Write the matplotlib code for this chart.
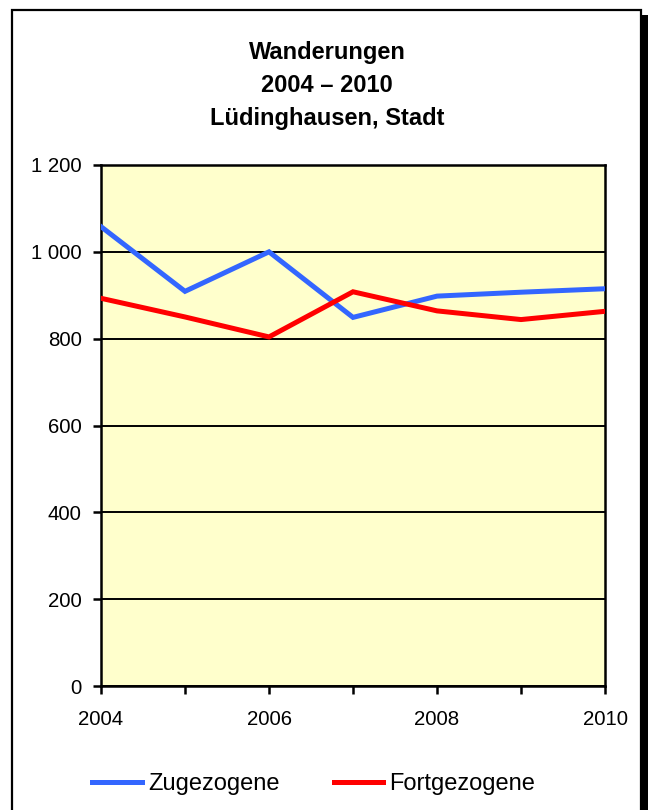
import matplotlib.pyplot as plt
import matplotlib.patches as patches
from matplotlib.ticker import FuncFormatter, MultipleLocator

plt.rcParams['font.family'] = ['Liberation Sans', 'DejaVu Sans']

years = [2004, 2005, 2006, 2007, 2008, 2009, 2010]
zugezogene = [1058, 909, 1000, 849, 898, 907, 915]
fortgezogene = [893, 850, 804, 908, 864, 844, 863]

fig = plt.figure(figsize=(6.48, 8.1), dpi=100)

# outer frame with drop shadow
W, H = 648.0, 810.0
fig.patches.append(patches.Rectangle((641 / W, -0.1), 7 / W, (810 - 15) / H + 0.1,
                                     transform=fig.transFigure, facecolor='black',
                                     edgecolor='none', zorder=-3))
fig.patches.append(patches.Rectangle((12 / W, -0.1), (641 - 12) / W, (810 - 10) / H + 0.1,
                                     transform=fig.transFigure, facecolor='white',
                                     edgecolor='black', linewidth=1.6, zorder=-2))

ax = fig.add_axes([101 / W, 1 - 686 / H, (605 - 101) / W, (686 - 165) / H])
ax.set_facecolor('#FFFFCC')

ax.plot(years, zugezogene, color='#3366FF', linewidth=3.6, label='Zugezogene',
        solid_joinstyle='miter', zorder=3)
ax.plot(years, fortgezogene, color='#FF0000', linewidth=3.6, label='Fortgezogene',
        solid_joinstyle='miter', zorder=3)

ax.set_xlim(2004, 2010)
ax.set_ylim(0, 1200)
ax.xaxis.set_major_locator(MultipleLocator(2))
ax.xaxis.set_minor_locator(MultipleLocator(1))
ax.yaxis.set_major_locator(MultipleLocator(200))
ax.yaxis.set_major_formatter(FuncFormatter(lambda v, p: f'{int(v):,}'.replace(',', ' ')))

ax.grid(axis='y', color='black', linewidth=1.4)
ax.set_axisbelow(True)
for s in ax.spines.values():
    s.set_linewidth(1.8)
ax.tick_params(axis='x', which='both', direction='out', length=6, width=1.8,
               labelsize=14.7, pad=11)
ax.tick_params(axis='y', which='major', direction='out', length=6, width=1.8,
               labelsize=14.7, pad=8)

fig.text(0.505, 1 - 41.5 / H, 'Wanderungen\n2004 – 2010\nLüdinghausen, Stadt',
         ha='center', va='top', fontsize=17, fontweight='bold', linespacing=1.55)

fig.legend(loc='center', bbox_to_anchor=(0.484, 1 - 784 / H), ncol=2, frameon=False,
           fontsize=17, handlelength=2.1, handletextpad=0.25, columnspacing=2.3)

fig.savefig('out.png', dpi=100)
